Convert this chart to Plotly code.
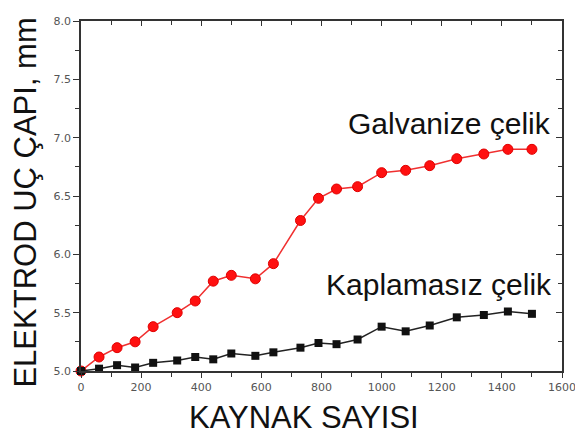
import plotly.graph_objects as go

# Data
galv_x = [0, 60, 120, 180, 240, 320, 380, 440, 500, 580, 640, 730, 790, 850, 920, 1000, 1080, 1160, 1250, 1340, 1420, 1500]
galv_y = [5.0, 5.12, 5.20, 5.25, 5.38, 5.50, 5.60, 5.77, 5.82, 5.79, 5.92, 6.29, 6.48, 6.56, 6.58, 6.70, 6.72, 6.76, 6.82, 6.86, 6.90, 6.90]
kap_x = [0, 60, 120, 180, 240, 320, 380, 440, 500, 580, 640, 730, 790, 850, 920, 1000, 1080, 1160, 1250, 1340, 1420, 1500]
kap_y = [5.0, 5.02, 5.05, 5.03, 5.07, 5.09, 5.12, 5.10, 5.15, 5.13, 5.16, 5.20, 5.24, 5.23, 5.27, 5.38, 5.34, 5.39, 5.46, 5.48, 5.51, 5.49]
x_ticks = [0, 200, 400, 600, 800, 1000, 1200, 1400, 1600]
y_ticks = [5.0, 5.5, 6.0, 6.5, 7.0, 7.5, 8.0]
x_title = "KAYNAK SAYISI"
y_title = "ELEKTROD UÇ ÇAPI, mm"
label_galv = "Galvanize çelik"
label_kap = "Kaplamasız çelik"

# page body has an 8px default margin, so the figure is sized to the remaining window
W, H = 575, 428
ML, MR, MT, MB = 73, 15, 7, 65

fig = go.Figure()
fig.add_trace(go.Scatter(x=galv_x, y=galv_y, mode="lines+markers",
                         line=dict(color="#f03030", width=1.5),
                         marker=dict(symbol="circle", size=10, color="#ff1010",
                                     line=dict(color="#e00000", width=1)),
                         showlegend=False, cliponaxis=False))
fig.add_trace(go.Scatter(x=kap_x, y=kap_y, mode="lines+markers",
                         line=dict(color="#222222", width=1.5),
                         marker=dict(symbol="square", size=8, color="#111111"),
                         showlegend=False, cliponaxis=False))
# invisible trace to activate mirror axes
fig.add_trace(go.Scatter(x=[0], y=[5], xaxis="x2", yaxis="y2", mode="markers",
                         marker=dict(opacity=0), showlegend=False, hoverinfo="skip"))

tickfont = dict(family="DejaVu Sans", size=11, color="#555555")
common = dict(showgrid=False, zeroline=False, showline=True, linecolor="#333333",
              linewidth=1.5, tickcolor="#333333", tickwidth=1.2)

pw, ph = W - ML - MR, H - MT - MB

def px_to_paper(xp, yp):
    return (xp - ML) / pw, (H - MB - yp) / ph

xt, yt = px_to_paper(299, 410)
xy, yy = px_to_paper(17, 192)

fig.update_layout(
    width=W, height=H,
    margin=dict(l=ML, r=MR, t=MT, b=MB),
    paper_bgcolor="white", plot_bgcolor="white",
    xaxis=dict(range=[0, 1600], tickvals=x_ticks, ticktext=[str(v) for v in x_ticks],
               ticks="outside", ticklen=5, tickfont=tickfont,
               minor=dict(dtick=100, tick0=0, ticks="outside", ticklen=4,
                          tickcolor="#333333", tickwidth=1), **common),
    yaxis=dict(range=[5.0, 8.0], tickvals=y_ticks, ticktext=[f"{v:.1f}" for v in y_ticks],
               ticks="outside", ticklen=6, tickfont=tickfont,
               minor=dict(dtick=0.25, tick0=5.0, ticks="outside", ticklen=4,
                          tickcolor="#333333", tickwidth=1), **common),
    xaxis2=dict(range=[0, 1600], overlaying="x", side="top", matches="x",
                tickvals=x_ticks, showticklabels=False, ticks="inside", ticklen=5,
                minor=dict(dtick=100, tick0=0, ticks="inside", ticklen=4,
                           tickcolor="#333333", tickwidth=1), **common),
    yaxis2=dict(range=[5.0, 8.0], overlaying="y", side="right", matches="y",
                tickvals=y_ticks, showticklabels=False, ticks="inside", ticklen=6,
                minor=dict(dtick=0.25, tick0=5.0, ticks="inside", ticklen=4,
                           tickcolor="#333333", tickwidth=1), **common),
    annotations=[
        dict(text=label_galv, x=1225, y=7.12, xref="x", yref="y", showarrow=False,
             xanchor="center", yanchor="middle",
             font=dict(family="Liberation Sans", size=30, color="#111111")),
        dict(text=label_kap, x=1191, y=5.74, xref="x", yref="y", showarrow=False,
             xanchor="center", yanchor="middle",
             font=dict(family="Liberation Sans", size=30, color="#111111")),
        dict(text=x_title, x=xt, y=yt, xref="paper", yref="paper", showarrow=False,
             xanchor="center", yanchor="middle",
             font=dict(family="Liberation Sans", size=31, color="#111111")),
        dict(text=y_title, x=xy, y=yy, xref="paper", yref="paper", textangle=-90,
             showarrow=False, xanchor="center", yanchor="middle",
             font=dict(family="Liberation Sans", size=31, color="#111111")),
    ],
)

fig.write_html("out.html")
